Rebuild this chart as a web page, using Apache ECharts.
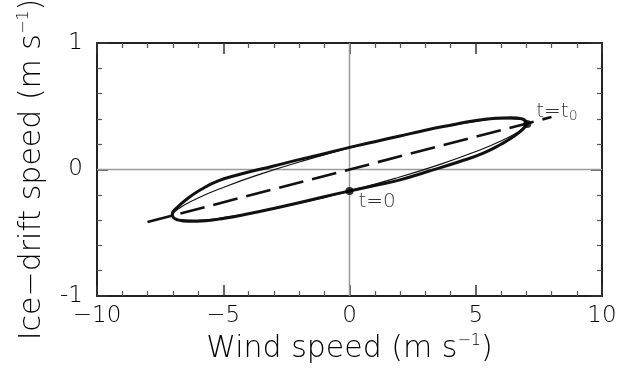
<!DOCTYPE html>
<html>
<head>
<meta charset="utf-8">
<script src="https://cdn.jsdelivr.net/npm/echarts@6/dist/echarts.min.js"></script>
<style>
html,body{margin:0;padding:0;background:#fff;}
#chart{width:635px;height:371px;}
</style>
</head>
<body>
<div id="chart"></div>
<script>
// ---- data ----
const xTickValues = [-10, -5, 0, 5, 10];
const xTickLabels = ['\u221210', '\u22125', '0', '5', '10'];
const yTickValues = [-1, 0, 1];
const yTickLabels = ['-1', '0', '1'];

// thick loop (starts at t = t0 tip, upper branch leftwards, lower branch back)
const thickLoop = [
  [7.04, 0.36], [6.85, 0.40], [6.4, 0.41], [5.8, 0.405], [4.95, 0.385], [4.0, 0.35],
  [3.0, 0.31], [2.0, 0.265], [1.0, 0.22], [0, 0.175], [-1.0, 0.125], [-2.0, 0.078],
  [-3.0, 0.028], [-4.3, -0.036], [-5.2, -0.09], [-5.9, -0.16], [-6.45, -0.235],
  [-6.85, -0.305], [-7.02, -0.35], [-6.98, -0.378], [-6.8, -0.398], [-6.4, -0.41],
  [-5.7, -0.405], [-4.95, -0.385], [-4.0, -0.35], [-3.0, -0.308], [-2.0, -0.263],
  [-1.0, -0.215], [0, -0.17], [1.0, -0.127], [2.0, -0.082], [3.0, -0.022],
  [4.4, 0.065], [5.3, 0.13], [6.0, 0.2], [6.5, 0.26], [6.85, 0.315], [7.04, 0.36]
];

// thin loop
const thinLoop = [
  [7.0, 0.365], [6.76, 0.397], [6.06, 0.401], [4.95, 0.378], [3.5, 0.330], [1.81, 0.259],
  [0, 0.170], [-1.81, 0.070], [-3.5, -0.035], [-4.95, -0.138], [-6.06, -0.231], [-6.76, -0.309],
  [-7.0, -0.365], [-6.76, -0.397], [-6.06, -0.401], [-4.95, -0.378], [-3.5, -0.330], [-1.81, -0.259],
  [0, -0.170], [1.81, -0.070], [3.5, 0.035], [4.95, 0.138], [6.06, 0.231], [6.76, 0.309], [7.0, 0.365]
];

// dashed straight line
const dashedLine = [[-8.0, -0.415], [8.0, 0.415]];

// zero reference lines
const zeroX = [[-10, 0], [10, 0]];
const zeroY = [[0, -1], [0, 1]];

// marked instants
const markers = [
  { value: [0, -0.17], name: 't0' },
  { value: [7.04, 0.36], name: 'tt0' }
];

// ---- chart ----
const FONT = 'DejaVu Sans';
const WEIGHT = 200;
const INK = '#000';

function tickFmt(values, labels) {
  return function (v) {
    const i = values.indexOf(Math.round(v * 1000) / 1000);
    return i >= 0 ? labels[i] : '';
  };
}

const nameRich = {
  a: { fontFamily: FONT, fontWeight: WEIGHT, fontSize: 30, color: INK, lineHeight: 35 },
  sup: { fontFamily: FONT, fontWeight: WEIGHT, fontSize: 16, color: INK, lineHeight: 35, padding: [0, 0, 17, 0] }
};

function axisCommon(extra) {
  return Object.assign({
    type: 'value',
    axisLine: { show: true, onZero: false, lineStyle: { color: '#222', width: 2 } },
    axisTick: { show: true, inside: true, length: 11, lineStyle: { color: '#333', width: 1.5 } },
    minorTick: { show: true, splitNumber: 5, length: 5, lineStyle: { color: '#555', width: 1.2 } },
    splitLine: { show: false },
    minorSplitLine: { show: false }
  }, extra);
}

const chart = echarts.init(document.getElementById('chart'), null, { renderer: 'canvas' });

chart.setOption({
  animation: false,
  backgroundColor: '#fff',
  grid: { left: 97, right: 33, top: 43, bottom: 75, containLabel: false, outerBoundsMode: 'none' },
  xAxis: [
    axisCommon({
      position: 'bottom', min: -10, max: 10, interval: 5,
      axisLabel: { show: true, margin: 9, fontFamily: FONT, fontWeight: WEIGHT, fontSize: 23, color: INK,
        formatter: tickFmt(xTickValues, xTickLabels) },
      name: '{a|Wind speed (m s}{sup|\u22121}{a|)}',
      nameLocation: 'middle', nameGap: 32,
      nameTextStyle: { rich: nameRich }
    }),
    axisCommon({
      position: 'top', min: -10, max: 10, interval: 5,
      axisLabel: { show: false }
    })
  ],
  yAxis: [
    axisCommon({
      position: 'left', min: -1, max: 1, interval: 1,
      axisLabel: { show: true, margin: 14, fontFamily: FONT, fontWeight: WEIGHT, fontSize: 23, color: INK,
        formatter: tickFmt(yTickValues, yTickLabels) },
      name: '{a|Ice\u2212drift speed (m s}{sup|\u22121}{a|)}',
      nameLocation: 'middle', nameGap: 45, nameRotate: 90,
      nameTextStyle: { rich: nameRich }
    }),
    axisCommon({
      position: 'right', min: -1, max: 1, interval: 1,
      axisLabel: { show: false }
    })
  ],
  series: [
    { type: 'line', data: zeroX, symbol: 'none', silent: true, z: 1,
      lineStyle: { color: '#9a9a9a', width: 1.5 } },
    { type: 'line', data: zeroY, symbol: 'none', silent: true, z: 1,
      lineStyle: { color: '#9a9a9a', width: 1.5 } },
    { type: 'line', data: dashedLine, symbol: 'none', silent: true, z: 3,
      lineStyle: { color: '#111', width: 2.6, type: [25, 9] } },
    { type: 'line', data: thinLoop, symbol: 'none', smooth: true, silent: true, z: 3,
      lineStyle: { color: '#111', width: 1.2 } },
    { type: 'line', data: thickLoop, symbol: 'none', smooth: true, silent: true, z: 4,
      lineStyle: { color: '#111', width: 3 } },
    { type: 'scatter', data: markers, symbol: 'circle', symbolSize: 8, silent: true, z: 5,
      itemStyle: { color: '#000' },
      label: {
        show: true, position: 'right', distance: 3,
        formatter: function (p) { return p.data.name === 't0' ? '{a|t=0}' : '{a|t=t}{s|0}'; },
        rich: {
          a: { fontFamily: FONT, fontWeight: WEIGHT, fontSize: 20, color: INK, lineHeight: 24 },
          s: { fontFamily: FONT, fontWeight: WEIGHT, fontSize: 14, color: INK, lineHeight: 24, padding: [8, 0, 0, 0] }
        }
      },
      labelLayout: function (p) {
        return p.dataIndex === 0 ? { dx: 2, dy: 11 } : { dx: 2, dy: -12 };
      }
    }
  ]
});
</script>
</body>
</html>
